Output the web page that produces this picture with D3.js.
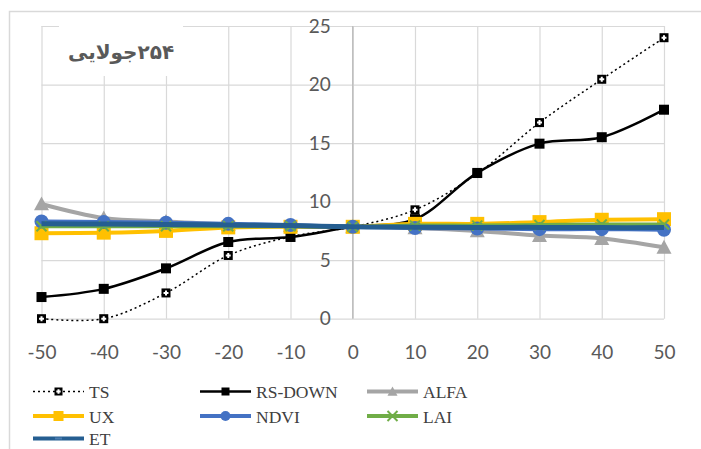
<!DOCTYPE html>
<html>
<head>
<meta charset="utf-8">
<script src="https://cdn.jsdelivr.net/npm/d3@7"></script>
<style>
  html, body { margin: 0; padding: 0; background: #fff; }
  svg { display: block; }
</style>
</head>
<body>
<svg id="chart" width="701" height="449"></svg>
<script>
// Sensitivity values per scenario (% change)
const categories = [-50, -40, -30, -20, -10, 0, 10, 20, 30, 40, 50];
const yTicks = [0, 5, 10, 15, 20, 25];
const seriesNames = ["TS", "RS-DOWN", "ALFA", "UX", "NDVI", "LAI", "ET"];
const tsValues     = [0.0, 0.0, 2.2, 5.4, 7.0, 7.85, 9.3, 12.4, 16.75, 20.45, 24.0];
const rsDownValues = [1.85, 2.55, 4.3, 6.55, 6.98, 7.85, 8.5, 12.45, 14.95, 15.5, 17.85];
const alfaValues   = [9.8, 8.6, 8.3, 8.05, 7.95, 7.85, 7.75, 7.5, 7.1, 6.85, 6.1];
const uxValues     = [7.3, 7.35, 7.5, 7.8, 7.85, 7.85, 8.1, 8.1, 8.25, 8.45, 8.5];
const ndviValues   = [8.3, 8.25, 8.2, 8.1, 8.0, 7.85, 7.75, 7.7, 7.65, 7.65, 7.6];
const laiValues    = [7.9, 7.9, 7.9, 7.9, 7.9, 7.85, 7.95, 7.95, 8.0, 8.05, 8.05];
const etValues     = [8.1, 8.08, 8.05, 8.0, 7.95, 7.85, 7.82, 7.8, 7.8, 7.78, 7.78];
const titleText = "۲۵۴جولایی";

const series = [
  { name: seriesNames[0], values: tsValues,     color: "#000000", width: 1.5, dash: "2,3", marker: "plusbox", size: 9 },
  { name: seriesNames[1], values: rsDownValues, color: "#000000", width: 2.5, dash: null,  marker: "square",  size: 10 },
  { name: seriesNames[2], values: alfaValues,   color: "#A5A5A5", width: 4,   dash: null,  marker: "triangle", size: 15 },
  { name: seriesNames[3], values: uxValues,     color: "#FFC000", width: 4,   dash: null,  marker: "square",  size: 14 },
  { name: seriesNames[4], values: ndviValues,   color: "#4472C4", width: 4,   dash: null,  marker: "circle",  size: 14 },
  { name: seriesNames[5], values: laiValues,    color: "#70AD47", width: 4,   dash: null,  marker: "x",       size: 10 },
  { name: seriesNames[6], values: etValues,     color: "#255E91", width: 5,   dash: null,  marker: "none",    size: 0 }
];

const svg = d3.select("#chart");

// outer chart frame
svg.append("rect")
  .attr("x", 9.5).attr("y", 11.5)
  .attr("width", 760).attr("height", 500)
  .attr("fill", "#fff").attr("stroke", "#D9D9D9").attr("stroke-width", 1.5);

const x = d3.scaleLinear().domain([-50, 50]).range([41.5, 664]);
const y = d3.scaleLinear().domain([0, 25]).range([318.7, 26]);

const tickFont = "Lato, 'Open Sans', sans-serif";

// horizontal gridlines
const gridY = d3.axisLeft(y).tickValues(yTicks).tickSize(-(x(50) - x(-50))).tickFormat("");
svg.append("g")
  .attr("transform", `translate(${x(-50)},0)`)
  .call(gridY)
  .call(g => g.select(".domain").remove())
  .call(g => g.selectAll("line").attr("stroke", "#D9D9D9").attr("stroke-width", 1.2));

// vertical gridlines
const gridX = d3.axisBottom(x).tickValues(categories).tickSize(-(y(0) - y(25))).tickFormat("");
svg.append("g")
  .attr("transform", `translate(0,${y(0)})`)
  .call(gridX)
  .call(g => g.select(".domain").remove())
  .call(g => g.selectAll("line").attr("stroke", "#D9D9D9").attr("stroke-width", 1.2));

// y axis through zero
svg.append("line")
  .attr("x1", x(0)).attr("x2", x(0))
  .attr("y1", y(0)).attr("y2", y(25))
  .attr("stroke", "#BFBFBF").attr("stroke-width", 1.5);

// y tick labels (left of the zero axis)
const yAxis = d3.axisLeft(y).tickValues(yTicks).tickSize(0).tickPadding(22);
svg.append("g")
  .attr("transform", `translate(${x(0)},0)`)
  .call(yAxis)
  .call(g => g.select(".domain").remove())
  .call(g => g.selectAll("text")
    .attr("fill", "#595959")
    .style("font-family", tickFont)
    .style("font-size", "19px"));

// x tick labels, plain hyphen for negatives
const xAxis = d3.axisBottom(x).tickValues(categories).tickSize(0).tickPadding(0).tickFormat(d => String(d));
svg.append("g")
  .attr("transform", `translate(0,${y(0)})`)
  .call(xAxis)
  .call(g => g.select(".domain").remove())
  .call(g => g.selectAll("text")
    .attr("dy", null)
    .attr("y", 40)
    .attr("fill", "#595959")
    .style("font-family", tickFont)
    .style("font-size", "19px"));

// title box
svg.append("rect")
  .attr("x", 59).attr("y", 20).attr("width", 124).attr("height", 56)
  .attr("fill", "#fff");
svg.append("text")
  .attr("x", 121).attr("y", 59)
  .attr("text-anchor", "middle")
  .attr("direction", "rtl")
  .attr("fill", "#595959")
  .style("font-family", "'DejaVu Sans', sans-serif")
  .style("font-weight", "bold")
  .style("font-size", "20px")
  .text(titleText);

// marker drawing
function drawMarker(g, s, cx, cy) {
  const r = s.size / 2;
  if (s.marker === "square") {
    g.append("rect").attr("x", cx - r).attr("y", cy - r)
      .attr("width", s.size).attr("height", s.size).attr("fill", s.color);
  } else if (s.marker === "plusbox") {
    const p = r * 0.55;
    g.append("rect").attr("x", cx - r).attr("y", cy - r)
      .attr("width", s.size).attr("height", s.size).attr("fill", "#000");
    g.append("path")
      .attr("d", `M${cx - p},${cy}H${cx + p}M${cx},${cy - p}V${cy + p}`)
      .attr("stroke", "#fff").attr("stroke-width", 2);
  } else if (s.marker === "triangle") {
    g.append("path")
      .attr("d", `M${cx},${cy - r}L${cx + r},${cy + r * 0.85}L${cx - r},${cy + r * 0.85}Z`)
      .attr("fill", s.color);
  } else if (s.marker === "circle") {
    g.append("circle").attr("cx", cx).attr("cy", cy).attr("r", r).attr("fill", s.color);
  } else if (s.marker === "x") {
    g.append("path")
      .attr("d", `M${cx - r},${cy - r}L${cx + r},${cy + r}M${cx - r},${cy + r}L${cx + r},${cy - r}`)
      .attr("stroke", s.color).attr("stroke-width", 2);
  }
}

const line = d3.line()
  .x((d, i) => x(categories[i]))
  .y(d => y(d))
  .curve(d3.curveCatmullRom.alpha(0.5));

series.forEach(s => {
  const g = svg.append("g");
  g.append("path")
    .attr("d", line(s.values))
    .attr("fill", "none")
    .attr("stroke", s.color)
    .attr("stroke-width", s.width)
    .attr("stroke-dasharray", s.dash)
    .attr("stroke-linejoin", "round");
  s.values.forEach((v, i) => drawMarker(g, s, x(categories[i]), y(v)));
});

// legend
const legendCols = [33, 200, 367];
const legendRows = [391.5, 416, 438.5];
series.forEach((s, i) => {
  const lx = legendCols[i % 3];
  const ly = legendRows[Math.floor(i / 3)];
  const g = svg.append("g");
  g.append("line")
    .attr("x1", lx).attr("x2", lx + 51)
    .attr("y1", ly).attr("y2", ly)
    .attr("stroke", s.color).attr("stroke-width", Math.min(s.width, 4))
    .attr("stroke-dasharray", s.dash);
  const ms = Object.assign({}, s, { size: s.marker === "plusbox" ? 8 : s.marker === "square" && s.width < 3 ? 8 : Math.min(s.size, 10) });
  drawMarker(g, ms, lx + 25.5, ly);
  if (s.marker === "none") {
    g.append("line")
      .attr("x1", lx + 22).attr("x2", lx + 29)
      .attr("y1", ly).attr("y2", ly)
      .attr("stroke", "#4A7CB0").attr("stroke-width", 2);
  }
  g.append("text")
    .attr("x", lx + 56).attr("y", ly + 6.5)
    .attr("fill", "#404040")
    .style("font-family", "'Liberation Serif', 'Times New Roman', serif")
    .style("font-size", "17.5px")
    .text(s.name);
});
</script>
</body>
</html>
